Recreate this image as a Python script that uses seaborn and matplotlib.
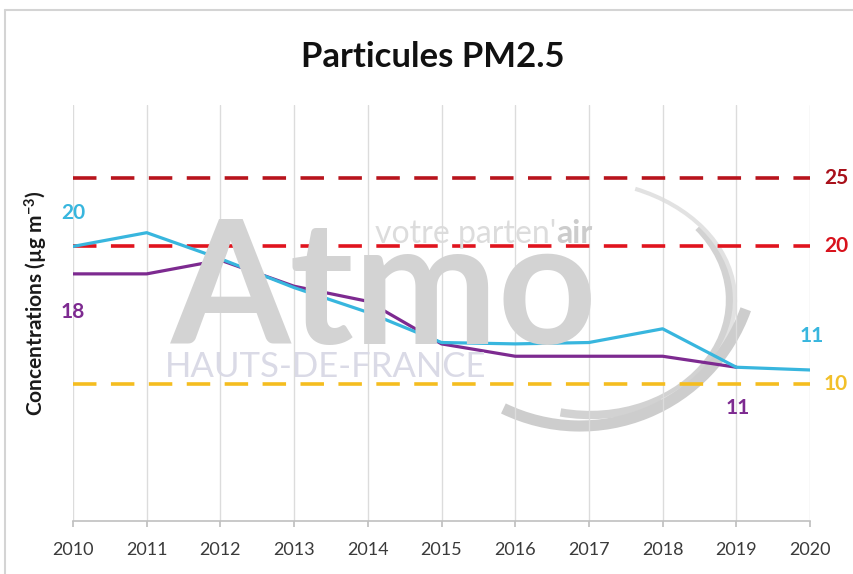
import matplotlib
matplotlib.use("Agg")
import matplotlib.pyplot as plt
from matplotlib.patches import Arc
from matplotlib.lines import Line2D
import seaborn as sns
import pandas as pd

# ---- data ----
years = [2010, 2011, 2012, 2013, 2014, 2015, 2016, 2017, 2018, 2019, 2020]
blue_values = [20.0, 21.0, 19.1, 17.0, 15.2, 13.0, 12.9, 13.0, 14.0, 11.2, 11.0]
purple_years = [2010, 2011, 2012, 2013, 2014, 2015, 2016, 2017, 2018, 2019]
purple_values = [18.0, 18.0, 19.0, 17.1, 16.0, 12.9, 12.0, 12.0, 12.0, 11.2]
threshold_values = [25, 20, 10]
threshold_labels = ["25", "20", "10"]
series_names = ["Série bleue", "Série violette"]
title_text = "Particules PM2.5"
ylabel_text = "Concentrations (µg m$^{-3}$)"

# ---- styles ----
W, H = 854, 574
BLUE = "#38b6de"
PURPLE = "#7d2a90"
TH_COLORS = ["#b8141c", "#e0141e", "#f5bd1f"]
TH_TEXT_COLORS = ["#a8101a", "#d8121c", "#f2c02a"]
FONT = ["Lato", "DejaVu Sans"]

sns.set_theme(style="white")
plt.rcParams["font.family"] = FONT
plt.rcParams["mathtext.default"] = "regular"

fig = plt.figure(figsize=(W / 100, H / 100), dpi=100)
fig.patch.set_facecolor("white")

def fx(px):
    return px / W

def fy(py):
    return 1 - py / H

ax = fig.add_axes([fx(73), fy(521), fx(810) - fx(73), fy(105) - fy(521)])
ax.set_facecolor("none")

# outer frame lines of the original chart box
fig.add_artist(Line2D([fx(5), fx(854)], [fy(10), fy(10)], color="#d4d4d4", lw=1.5, transform=fig.transFigure))
fig.add_artist(Line2D([fx(5), fx(5)], [fy(10), fy(574)], color="#d4d4d4", lw=1.5, transform=fig.transFigure))

# ---- watermark ----
wm = "#d3d3d3"
fig.text(fx(384), fy(344), "Atmo", fontsize=124, fontweight="bold", color=wm,
         ha="center", va="baseline", zorder=0)
fig.text(fx(556), fy(243), "votre parten'", fontsize=23, fontweight="normal", color="#dcdcdc",
         ha="right", va="baseline", zorder=0)
fig.text(fx(556), fy(243), "air", fontsize=23, fontweight="bold", color="#cccccc",
         ha="left", va="baseline", zorder=0)
fig.text(fx(326), fy(377), "HAUTS-DE-FRANCE", fontsize=25, fontweight="normal", color="#dadae6",
         ha="center", va="baseline", zorder=0)
fig.add_artist(Arc((fx(590), fy(300)), fx(280), 230 / H, theta1=-100, theta2=45,
                   color="#d2d2d2", lw=6, transform=fig.transFigure, zorder=0))
fig.add_artist(Arc((fx(575), fy(300)), fx(320), 240 / H, theta1=-60, theta2=70,
                   color="#e2e2e2", lw=3, transform=fig.transFigure, zorder=0))
fig.add_artist(Arc((fx(580), fy(250)), fx(352), 352 / H, theta1=-108, theta2=-28,
                   color="#cdcdcd", lw=8, transform=fig.transFigure, zorder=0))

# ---- data frame ----
df = pd.DataFrame({
    "annee": years + purple_years,
    "valeur": blue_values + purple_values,
    "serie": [series_names[0]] * len(years) + [series_names[1]] * len(purple_years),
})

sns.lineplot(data=df, x="annee", y="valeur", hue="serie",
             palette={series_names[0]: BLUE, series_names[1]: PURPLE},
             hue_order=[series_names[1], series_names[0]],
             linewidth=2.3, legend=False, ax=ax, zorder=3)

for val, col in zip(threshold_values, TH_COLORS):
    ax.axhline(val, color=col, lw=2.6, dashes=(6.5, 4), zorder=2)

ax.set_xlim(years[0], years[-1])
ax.set_ylim(0, 30.3)
ax.set_xticks(years)
ax.set_xticklabels([str(y) for y in years], fontsize=13, color="#3a3a3a")
ax.set_yticks([])
ax.grid(axis="x", color="#dcdcdc", lw=1)
ax.grid(axis="y", visible=False)
for s in ["top", "right", "left"]:
    ax.spines[s].set_visible(False)
ax.spines["bottom"].set_color("#c0c0c0")
ax.spines["bottom"].set_linewidth(1.2)
ax.tick_params(axis="x", bottom=True, length=4, color="#c0c0c0", pad=11)
ax.set_xlabel("")
ax.set_ylabel("")

# threshold labels on the right
for val, lab, col in zip(threshold_values, threshold_labels, TH_TEXT_COLORS):
    ax.text(1.019, val, lab, transform=ax.get_yaxis_transform(), fontsize=15,
            fontweight="bold", color=col, ha="left", va="center")

# series end labels
ax.text(years[0], blue_values[0] + 2.45, f"{blue_values[0]:.0f}", fontsize=15,
        fontweight="bold", color=BLUE, ha="center", va="center", clip_on=False, zorder=4)
ax.text(purple_years[0], purple_values[0] - 2.75, f"{purple_values[0]:.0f}", fontsize=15,
        fontweight="bold", color=PURPLE, ha="center", va="center", clip_on=False, zorder=4)
ax.text(years[-1] + 0.02, blue_values[-1] + 2.45, f"{blue_values[-1]:.0f}", fontsize=15,
        fontweight="bold", color=BLUE, ha="center", va="center", clip_on=False)
ax.text(purple_years[-1] + 0.02, purple_values[-1] - 2.95, f"{purple_values[-1]:.0f}", fontsize=15,
        fontweight="bold", color=PURPLE, ha="center", va="center", clip_on=False)

fig.text(fx(36), fy(303), ylabel_text, rotation=90, fontsize=15, fontweight="bold",
         color="#1a1a1a", ha="center", va="center")
fig.text(fx(433), fy(57), title_text, fontsize=25, fontweight="bold", color="#111111",
         ha="center", va="center")

fig.savefig("out.png", dpi=100, facecolor="white")
